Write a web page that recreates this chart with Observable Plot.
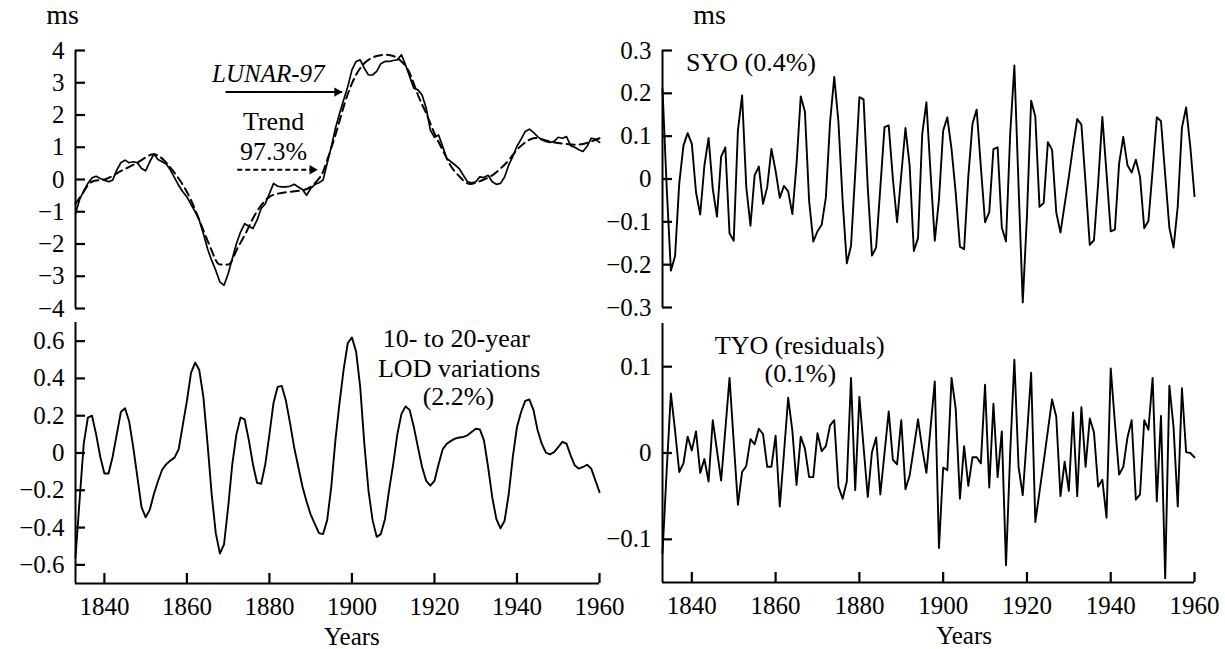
<!DOCTYPE html>
<html>
<head>
<meta charset="utf-8">
<script src="https://cdn.jsdelivr.net/npm/d3@7"></script>
<script src="https://cdn.jsdelivr.net/npm/@observablehq/plot@0.6"></script>
<style>
  body { margin: 0; background: #fff; }
  #chart { position: relative; width: 1225px; height: 649px; }
  #chart svg { position: absolute; left: 0; overflow: visible; }
</style>
</head>
<body>
<div id="chart"></div>
<script>
// Annual series start in 1833 and run to 1960.
const firstYear = 1833;
const lastYear = 1960;

// LOD from LUNAR-97, ms (one value per year, 1833–1960)
const lunar97 = [
  -1.06, -0.62, -0.35, -0.12, 0.05, 0.10, 0.03,
  -0.02, -0.07, -0.02, 0.29, 0.52, 0.60, 0.52, 0.55, 0.52, 0.34,
  0.27, 0.55, 0.79, 0.62, 0.55, 0.48, 0.29, 0.06, -0.18, -0.38,
  -0.54, -0.77, -1.00, -1.26, -1.68, -2.15, -2.51, -2.82, -3.18, -3.28,
  -2.92, -2.46, -1.99, -1.63, -1.37, -1.45, -1.52, -1.26, -0.90, -0.75,
  -0.44, -0.12, -0.21, -0.23, -0.23, -0.21, -0.15, -0.23, -0.31, -0.49,
  -0.28, -0.15, -0.10, -0.02, 0.50, 1.02, 1.59, 2.05, 2.47, 2.88,
  3.40, 3.66, 3.71, 3.45, 3.24, 3.24, 3.35, 3.59, 3.66, 3.66,
  3.69, 3.71, 3.87, 3.55, 3.19, 2.83, 2.78, 2.62, 2.21, 1.53,
  1.31, 1.38, 1.02, 0.65, 0.55, 0.45, 0.34, 0.13, -0.07, -0.10,
  -0.07, 0.08, 0.06, 0.13, -0.07, -0.15, -0.12, 0.08, 0.45, 0.72,
  1.03, 1.25, 1.49, 1.56, 1.46, 1.33, 1.23, 1.18, 1.15, 1.18,
  1.31, 1.28, 1.33, 1.05, 1.00, 0.92, 0.87, 1.03, 1.28, 1.25,
  1.15
];

// Trend component (97.3%)
const trendYears = [
  1833, 1835, 1837, 1840, 1843, 1846, 1849, 1852, 1855, 1858, 1861, 1864, 1866, 1867.5,
  1869, 1870.5, 1872, 1874, 1876, 1878, 1880, 1882, 1885, 1888, 1890, 1892, 1893, 1894,
  1896, 1898, 1900, 1902, 1904, 1906, 1908, 1910, 1912, 1914, 1916, 1918, 1920, 1922,
  1924, 1926, 1928, 1930, 1932, 1934, 1936, 1938, 1940, 1942, 1944, 1946, 1948, 1950,
  1952, 1954, 1956, 1958, 1960
];
const trendValues = [
  -0.75, -0.38, -0.07, 0.00, 0.19, 0.39, 0.60, 0.78, 0.52, 0.03, -0.64, -1.58, -2.20, -2.60,
  -2.63, -2.60, -2.20, -1.73, -1.21, -0.80, -0.54, -0.44, -0.38, -0.33, -0.23, 0.03, 0.24, 0.60,
  1.38, 2.26, 2.98, 3.45, 3.71, 3.83, 3.87, 3.83, 3.66, 3.30, 2.62, 2.05, 1.43, 0.91,
  0.41, 0.10, -0.12, -0.10, 0.00, 0.13, 0.34, 0.60, 0.92, 1.15, 1.28, 1.25, 1.18, 1.13,
  1.10, 1.08, 1.10, 1.18, 1.28
];

// 10- to 20-year LOD variations (2.2%)
const lodDecadal = [
  -0.56, -0.25, 0.05, 0.19, 0.20, 0.10, -0.02,
  -0.11, -0.11, -0.02, 0.10, 0.22, 0.24, 0.17, 0.03, -0.13, -0.29,
  -0.345, -0.305, -0.22, -0.15, -0.09, -0.06, -0.04, -0.025, 0.02, 0.15,
  0.28, 0.43, 0.485, 0.445, 0.30, 0.05, -0.22, -0.43, -0.54, -0.49,
  -0.29, -0.06, 0.10, 0.19, 0.18, 0.07, -0.06, -0.16, -0.165, -0.06,
  0.10, 0.27, 0.355, 0.36, 0.28, 0.16, 0.03, -0.075, -0.18, -0.26,
  -0.33, -0.38, -0.43, -0.435, -0.36, -0.18, 0.07, 0.27, 0.45, 0.59,
  0.62, 0.545, 0.355, 0.05, -0.20, -0.36, -0.45, -0.435, -0.355, -0.20,
  -0.06, 0.10, 0.21, 0.25, 0.23, 0.14, 0.03, -0.075, -0.15, -0.175,
  -0.15, -0.06, 0.02, 0.05, 0.065, 0.077, 0.083, 0.086, 0.095, 0.113,
  0.13, 0.127, 0.068, -0.075, -0.237, -0.354, -0.404, -0.363, -0.22, -0.02,
  0.14, 0.22, 0.28, 0.287, 0.23, 0.122, 0.05, 0.002, -0.007, 0.005,
  0.032, 0.06, 0.05, -0.013, -0.066, -0.084, -0.075, -0.063, -0.084, -0.147,
  -0.21
];

// SYO (0.4%)
const syo = [
  0.21, -0.02, -0.214, -0.18, -0.01, 0.078, 0.107,
  0.082, -0.031, -0.083, 0.031, 0.096, -0.023, -0.088, 0.052, 0.074, -0.127,
  -0.144, 0.113, 0.195, -0.019, -0.109, 0.009, 0.029, -0.058, -0.019, 0.07,
  0.019, -0.044, -0.016, -0.029, -0.082, 0.035, 0.193, 0.157, -0.051, -0.146,
  -0.122, -0.107, -0.043, 0.133, 0.238, 0.133, -0.051, -0.197, -0.156, 0.012,
  0.191, 0.186, -0.02, -0.179, -0.16, -0.02, 0.121, 0.125, 0.0, -0.101,
  0.01, 0.119, 0.031, -0.168, -0.138, 0.105, 0.179, 0.013, -0.144, -0.048,
  0.113, 0.144, 0.07, -0.033, -0.158, -0.164, 0.005, 0.129, 0.162, 0.028,
  -0.101, -0.078, 0.07, 0.074, -0.113, -0.146, 0.105, 0.265, -0.017, -0.288,
  -0.087, 0.183, 0.146, -0.065, -0.056, 0.086, 0.068, -0.078, -0.125, -0.06,
  0.005, 0.075, 0.14, 0.127, -0.01, -0.154, -0.143, -0.01, 0.145, 0.013,
  -0.122, -0.118, 0.036, 0.098, 0.032, 0.015, 0.045, 0.005, -0.115, -0.098,
  0.02, 0.144, 0.135, 0.01, -0.114, -0.16, -0.064, 0.12, 0.167, 0.075,
  -0.04
];

// TYO (residuals, 0.1%)
const tyo = [
  -0.116, -0.02, 0.069, 0.026, -0.022, -0.012, 0.019,
  0.003, 0.025, -0.023, -0.007, -0.033, 0.038, 0.003, -0.032, 0.027, 0.087,
  0.013, -0.06, -0.022, -0.015, 0.016, 0.01, 0.028, 0.022, -0.016, -0.016,
  0.02, -0.062, 0.0, 0.064, 0.026, -0.037, 0.019, 0.005, -0.028, -0.028,
  0.023, 0.002, 0.008, 0.032, 0.038, -0.039, -0.053, -0.033, 0.087, -0.043,
  0.065, 0.007, -0.051, 0.001, 0.018, -0.048, 0.0, 0.048, -0.008, -0.013,
  0.038, -0.042, -0.026, 0.006, 0.039, 0.005, -0.023, 0.03, 0.083, -0.11,
  -0.017, -0.02, 0.087, 0.051, -0.053, 0.008, -0.038, -0.005, -0.005, -0.012,
  0.079, -0.04, 0.057, -0.028, 0.025, -0.13, 0.0, 0.108, -0.016, -0.049,
  0.02, 0.093, -0.08, -0.045, -0.01, 0.026, 0.062, 0.042, -0.05, -0.01,
  -0.044, 0.047, -0.05, 0.053, -0.016, 0.04, 0.024, -0.039, -0.031, -0.075,
  0.098, 0.035, -0.025, -0.016, 0.018, 0.038, -0.054, -0.048, 0.038, 0.027,
  0.087, -0.056, 0.043, -0.145, 0.078, 0.03, -0.062, 0.075, 0.001, 0.0,
  -0.005
];

// Axis ticks
const yearTicks = [1840, 1860, 1880, 1900, 1920, 1940, 1960];
const lunarTicks = [-4, -3, -2, -1, 0, 1, 2, 3, 4];
const lodTicks = [-0.6, -0.4, -0.2, 0, 0.2, 0.4, 0.6];
const syoTicks = [-0.3, -0.2, -0.1, 0, 0.1, 0.2, 0.3];
const tyoTicks = [-0.1, 0, 0.1];

// Build table rows from the arrays
const annual = values => values.map((v, i) => ({year: firstYear + i, value: v}));
const trend = trendYears.map((y, i) => ({year: y, value: trendValues[i]}));

const FONT = '"Liberation Serif", "Times New Roman", Times, serif';
const fmt = d3.format("~g");
const W = 1225;
const TICK = 10;       // inward tick length, px
const TICK_FONT = 25;  // tick label size, px

function panel({top, height, marginTop, marginBottom, marginLeft, marginRight, yDomain, yTicks, xAxis, marks}) {
  const frameWidth = W - marginLeft - marginRight;
  const frameHeight = height - marginTop - marginBottom;
  // data units spanned by one tick length along each axis
  const tickYears = TICK * (lastYear - firstYear) / frameWidth;
  const tickValue = TICK * (yDomain[1] - yDomain[0]) / frameHeight;
  const axisMarks = [
    // left axis line with short ticks pointing into the plot
    Plot.ruleX([firstYear], {stroke: "black", strokeWidth: 2}),
    Plot.ruleY(yTicks, {y: d => d, x1: firstYear, x2: firstYear + tickYears, stroke: "black", strokeWidth: 2.2}),
    Plot.axisY(yTicks, {tickSize: 0, tickPadding: 11, fontSize: TICK_FONT, tickFormat: fmt, label: null})
  ];
  if (xAxis) axisMarks.push(
    // bottom axis line with short upward ticks
    Plot.ruleY([yDomain[0]], {stroke: "black", strokeWidth: 2}),
    Plot.ruleX(yearTicks, {x: d => d, y1: yDomain[0], y2: yDomain[0] + tickValue, stroke: "black", strokeWidth: 2.2}),
    Plot.axisX(yearTicks, {tickSize: 0, tickPadding: 14, fontSize: TICK_FONT, tickFormat: fmt, label: null})
  );
  const svg = Plot.plot({
    width: W, height, marginTop, marginBottom, marginLeft, marginRight,
    style: {background: "transparent", fontFamily: FONT, fontSize: "24px", color: "black", overflow: "visible"},
    x: {domain: [firstYear, lastYear], axis: null},
    y: {domain: yDomain, axis: null},
    marks: [...axisMarks, ...marks]
  });
  svg.style.top = top + "px";
  return svg;
}

// Filled arrowhead whose tip sits at (x, y)
const arrowHead = (x, y) => Plot.dot([0], {x: () => x, y: () => y, symbol: "triangle", rotate: 90, r: 3.5, fill: "black", stroke: "none", dx: -5});

const chart = document.getElementById("chart");

// Top left: LUNAR-97 and its trend
chart.append(panel({
  top: 0, height: 316, marginTop: 50, marginBottom: 8, marginLeft: 75, marginRight: 626,
  yDomain: [-4, 4], yTicks: lunarTicks, xAxis: false,
  marks: [
    Plot.text(["ms"], {frameAnchor: "top-left", dx: -13, dy: -27, lineAnchor: "bottom", textAnchor: "middle", fontSize: 28}),
    Plot.line(trend, {x: "year", y: "value", stroke: "black", strokeWidth: 2, strokeDasharray: "8,5", curve: "natural"}),
    Plot.line(annual(lunar97), {x: "year", y: "value", stroke: "black", strokeWidth: 1.7}),
    Plot.text(["LUNAR-97"], {x: 1866.1, y: 3.02, lineAnchor: "bottom", textAnchor: "start", fontSize: 25, fontStyle: "italic", letterSpacing: "2.5px"}),
    Plot.link([0], {x1: () => 1869.35, x2: () => 1897.6, y1: () => 2.71, y2: () => 2.71, stroke: "black", strokeWidth: 2}),
    arrowHead(1897.6, 2.71),
    Plot.text(["Trend"], {x: 1881, y: 1.52, lineAnchor: "bottom", textAnchor: "middle", fontSize: 26}),
    Plot.text(["97.3%"], {x: 1881, y: 0.61, lineAnchor: "bottom", textAnchor: "middle", fontSize: 26}),
    Plot.link([0], {x1: () => 1872.2, x2: () => 1891.6, y1: () => 0.3, y2: () => 0.3, stroke: "black", strokeWidth: 2, strokeDasharray: "5,3"}),
    arrowHead(1891.6, 0.3)
  ]
}));

// Bottom left: 10- to 20-year LOD variations
chart.append(panel({
  top: 300, height: 349, marginTop: 22, marginBottom: 66, marginLeft: 75, marginRight: 626,
  yDomain: [-0.7, 0.7], yTicks: lodTicks, xAxis: true,
  marks: [
    Plot.line(annual(lodDecadal), {x: "year", y: "value", stroke: "black", strokeWidth: 1.9}),
    Plot.text(["10- to 20-year"], {x: 1925.3, y: 0.568, lineAnchor: "bottom", textAnchor: "middle", fontSize: 26}),
    Plot.text(["LOD variations"], {x: 1926.0, y: 0.41, lineAnchor: "bottom", textAnchor: "middle", fontSize: 26}),
    Plot.text(["(2.2%)"], {x: 1925.8, y: 0.255, lineAnchor: "bottom", textAnchor: "middle", fontSize: 26}),
    Plot.text(["Years"], {x: () => 1900, frameAnchor: "bottom", dy: 61, lineAnchor: "bottom", textAnchor: "middle", fontSize: 25})
  ]
}));

// Top right: SYO
chart.append(panel({
  top: 0, height: 316, marginTop: 50, marginBottom: 9, marginLeft: 662, marginRight: 31,
  yDomain: [-0.3, 0.3], yTicks: syoTicks, xAxis: false,
  marks: [
    Plot.text(["ms"], {frameAnchor: "top-left", dx: 47, dy: -27, lineAnchor: "bottom", textAnchor: "middle", fontSize: 28}),
    Plot.line(annual(syo), {x: "year", y: "value", stroke: "black", strokeWidth: 1.9}),
    Plot.text(["SYO (0.4%)"], {x: 1838.6, y: 0.253, lineAnchor: "bottom", textAnchor: "start", fontSize: 26})
  ]
}));

// Bottom right: TYO residuals
chart.append(panel({
  top: 300, height: 349, marginTop: 23, marginBottom: 67, marginLeft: 662, marginRight: 31,
  yDomain: [-0.15, 0.15], yTicks: tyoTicks, xAxis: true,
  marks: [
    Plot.line(annual(tyo), {x: "year", y: "value", stroke: "black", strokeWidth: 1.9}),
    Plot.text(["TYO (residuals)"], {x: 1845.5, y: 0.115, lineAnchor: "bottom", textAnchor: "start", fontSize: 26}),
    Plot.text(["(0.1%)"], {x: 1865.9, y: 0.082, lineAnchor: "bottom", textAnchor: "middle", fontSize: 26}),
    Plot.text(["Years"], {x: () => 1905, frameAnchor: "bottom", dy: 61, lineAnchor: "bottom", textAnchor: "middle", fontSize: 25})
  ]
}));
</script>
</body>
</html>
